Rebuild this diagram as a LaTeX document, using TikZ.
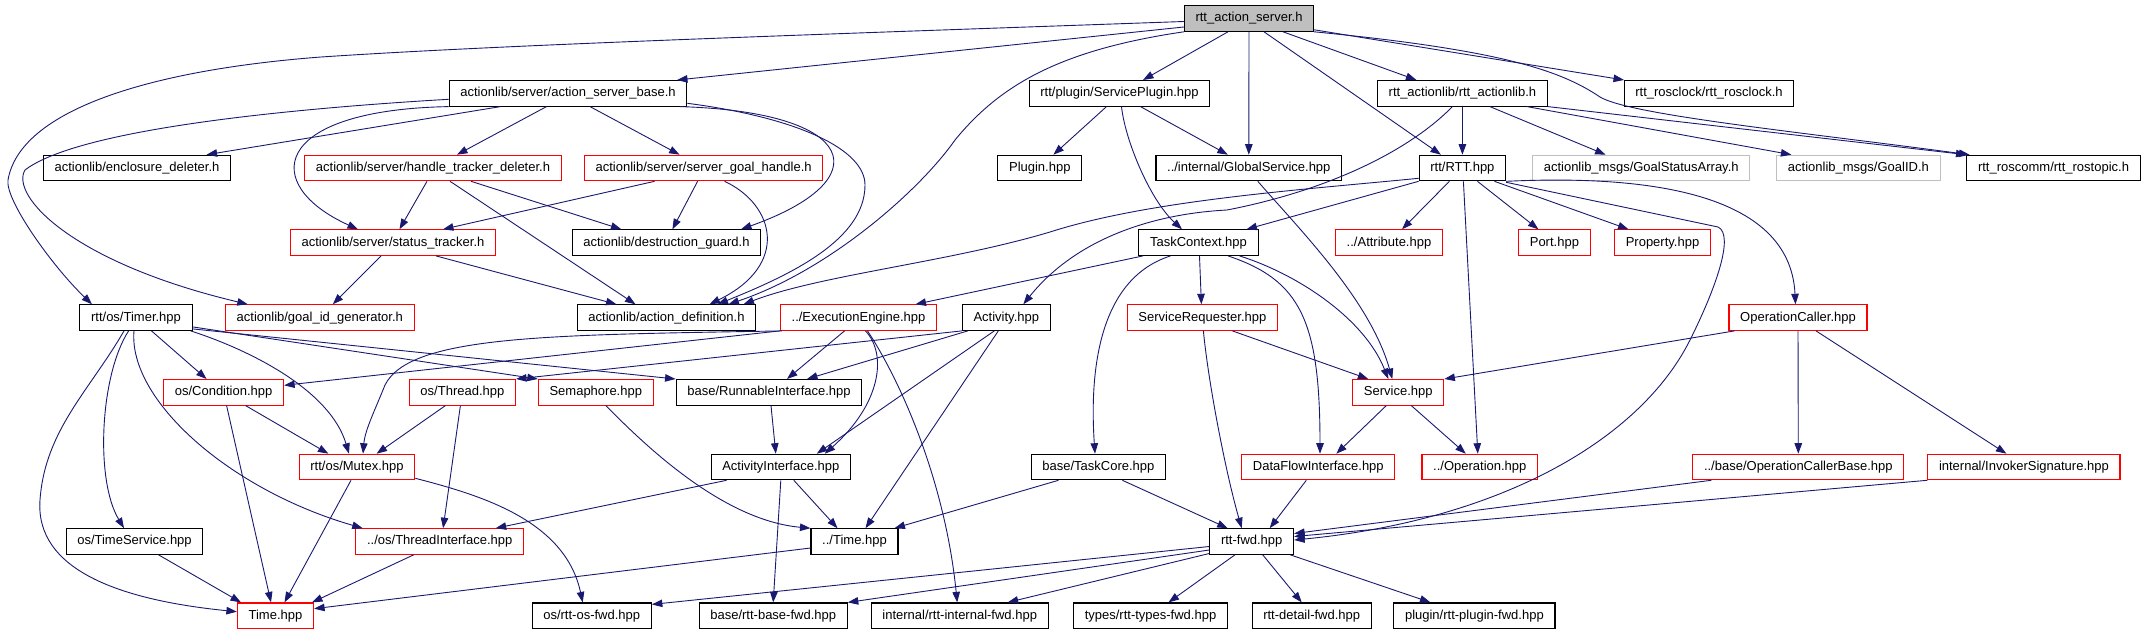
\documentclass[tikz,border=0pt]{standalone}
\usepackage{fontspec}
\setmainfont{Liberation Sans}
\usetikzlibrary{arrows.meta}
\definecolor{edgeblue}{RGB}{25,25,112}
\definecolor{boxgray}{RGB}{191,191,191}
\tikzset{
  file/.style={draw=black, line width=1.1pt, fill=white, inner xsep=11.2pt, inner ysep=0pt,
    minimum height=25.5pt, text height=9.6pt, text depth=2.7pt, font=\fontsize{13}{15}\selectfont},
  redfile/.style={file, draw=red},
  msgfile/.style={file, draw=boxgray},
  topfile/.style={file, fill=boxgray},
  inc/.style={edgeblue, line width=0.9pt, -{Triangle[length=10.5pt,width=7.5pt]}},
}
\begin{document}
\begin{tikzpicture}[x=1pt, y=-1pt]
  \useasboundingbox (0,0) rectangle (2147,635);
  \node[topfile] (top) at (1249,18.5) {rtt\_action\_server.h};
  \node[file] (asb) at (568,93.3) {actionlib/server/action\_server\_base.h};
  \node[file] (sp) at (1119.5,93.3) {rtt/plugin/ServicePlugin.hpp};
  \node[file] (ral) at (1462.4,93.3) {rtt\_actionlib/rtt\_actionlib.h};
  \node[file] (rosclock) at (1709,93.3) {rtt\_rosclock/rtt\_rosclock.h};
  \node[file] (encl) at (137,168) {actionlib/enclosure\_deleter.h};
  \node[redfile] (htd) at (433,168) {actionlib/server/handle\_tracker\_deleter.h};
  \node[redfile] (sgh) at (703.6,168) {actionlib/server/server\_goal\_handle.h};
  \node[file] (plugin) at (1039.8,168) {Plugin.hpp};
  \node[file] (gs) at (1248.8,168) {../internal/GlobalService.hpp};
  \node[file] (rtt) at (1462.4,168) {rtt/RTT.hpp};
  \node[msgfile] (gsa) at (1641.2,168) {actionlib\_msgs/GoalStatusArray.h};
  \node[msgfile] (goalid) at (1858.4,168) {actionlib\_msgs/GoalID.h};
  \node[file] (rostopic) at (2053.5,168) {rtt\_roscomm/rtt\_rostopic.h};
  \node[redfile] (st) at (393,242.6) {actionlib/server/status\_tracker.h};
  \node[file] (dg) at (666.4,242.6) {actionlib/destruction\_guard.h};
  \node[file] (tc) at (1198.5,242.6) {TaskContext.hpp};
  \node[redfile] (attr) at (1389,242.6) {../Attribute.hpp};
  \node[redfile] (port) at (1554.4,242.6) {Port.hpp};
  \node[redfile] (prop) at (1662.5,242.6) {Property.hpp};
  \node[file] (timer) at (136,317.6) {rtt/os/Timer.hpp};
  \node[redfile] (gig) at (319.8,317.6) {actionlib/goal\_id\_generator.h};
  \node[file] (ad) at (666.5,317.6) {actionlib/action\_definition.h};
  \node[redfile] (ee) at (858.5,317.6) {../ExecutionEngine.hpp};
  \node[file] (act) at (1006.3,317.6) {Activity.hpp};
  \node[redfile] (sr) at (1202.4,317.6) {ServiceRequester.hpp};
  \node[redfile] (oc) at (1798,317.6) {OperationCaller.hpp};
  \node[redfile] (cond) at (223.6,392.3) {os/Condition.hpp};
  \node[redfile] (thread) at (462.4,392.3) {os/Thread.hpp};
  \node[redfile] (sem) at (595.8,392.3) {Semaphore.hpp};
  \node[file] (ri) at (769,392.3) {base/RunnableInterface.hpp};
  \node[redfile] (svc) at (1398.3,392.3) {Service.hpp};
  \node[redfile] (mutex) at (357,467) {rtt/os/Mutex.hpp};
  \node[file] (ai) at (780.8,467) {ActivityInterface.hpp};
  \node[file] (tcore) at (1098.4,467) {base/TaskCore.hpp};
  \node[redfile] (dfi) at (1318.3,467) {DataFlowInterface.hpp};
  \node[redfile] (op) at (1479.8,467) {../Operation.hpp};
  \node[redfile] (ocb) at (1798.3,467) {../base/OperationCallerBase.hpp};
  \node[redfile] (isig) at (2023.9,467) {internal/InvokerSignature.hpp};
  \node[file] (tsvc) at (134.5,541.5) {os/TimeService.hpp};
  \node[redfile] (ti) at (439.7,541.5) {../os/ThreadInterface.hpp};
  \node[file] (time2) at (854.5,541.5) {../Time.hpp};
  \node[file] (fwd) at (1251.7,541.5) {rtt-fwd.hpp};
  \node[redfile] (time) at (275.5,615.7) {Time.hpp};
  \node[file] (osfwd) at (591.7,615.7) {os/rtt-os-fwd.hpp};
  \node[file] (basefwd) at (773.2,615.7) {base/rtt-base-fwd.hpp};
  \node[file] (intfwd) at (959.7,615.7) {internal/rtt-internal-fwd.hpp};
  \node[file] (typesfwd) at (1150.5,615.7) {types/rtt-types-fwd.hpp};
  \node[file] (detailfwd) at (1311.7,615.7) {rtt-detail-fwd.hpp};
  \node[file] (pluginfwd) at (1474.4,615.7) {plugin/rtt-plugin-fwd.hpp};

  \draw[inc] ([yshift=-8.5pt]top.west) -- ([xshift=109pt]asb.north);
  \draw[inc] ([yshift=-3pt]top.west) .. controls (800,35) and (500,45) .. (321,57) .. controls (150,70) and (20,110) .. (8,180) .. controls (5,200) and (52,266) .. ([xshift=-44pt]timer.north);
  \draw[inc] (top.south west) .. controls (1060,50) and (1000,85) .. (955,140) .. controls (920,190) and (830,270) .. ([xshift=62pt]ad.north);
  \draw[inc] ([xshift=-21pt]top.south) -- ([xshift=23.5pt]sp.north);
  \draw[inc] (top.south) -- (gs.north);
  \draw[inc] ([xshift=15pt]top.south) -- ([xshift=-21.5pt]rtt.north);
  \draw[inc] ([xshift=34pt]top.south) -- ([xshift=-46pt]ral.north);
  \draw[inc] ([yshift=2pt]top.south east) -- ([xshift=-85pt]rosclock.north);
  \draw[inc] (top.south east) .. controls (1500,50) and (1560,70) .. (1600,97) .. controls (1630,115) and (1800,132) .. ([xshift=-84pt]rostopic.north);

  \draw[inc] ([xshift=-67.5pt]asb.south) -- ([xshift=69.6pt]encl.north);
  \draw[inc] ([xshift=-21.5pt]asb.south) -- ([xshift=24pt]htd.north);
  \draw[inc] ([xshift=22pt]asb.south) -- ([xshift=-24pt]sgh.north);
  \draw[inc] (asb.south west) .. controls (270,110) and (260,185) .. ([xshift=-35pt]st.north);
  \draw[inc] ([yshift=-6pt]asb.west) .. controls (300,108) and (80,128) .. (25,170) .. controls (10,195) and (70,262) .. ([xshift=-72pt]gig.north);
  \draw[inc] ([xshift=112pt]asb.south) .. controls (860,112) and (880,180) .. ([xshift=74.6pt]dg.north);
  \draw[inc] ([yshift=-10pt]asb.east) .. controls (800,118) and (865,150) .. (865,185) .. controls (865,240) and (790,275) .. ([xshift=51pt]ad.north);

  \draw[inc] ([xshift=-6pt]htd.south) -- ([xshift=6.5pt]st.north);
  \draw[inc] ([xshift=17pt]htd.south) -- ([xshift=-31pt]ad.north);
  \draw[inc] ([xshift=38pt]htd.south) -- ([xshift=-45pt]dg.north);
  \draw[inc] ([xshift=-49pt]sgh.south) -- ([xshift=50pt]st.north);
  \draw[inc] ([xshift=-6pt]sgh.south) -- ([xshift=6pt]dg.north);
  \draw[inc] ([xshift=21pt]sgh.south) .. controls (775,205) and (790,265) .. ([xshift=43pt]ad.north);
  \draw[inc] ([xshift=-12pt]st.south) -- ([xshift=13pt]gig.north);
  \draw[inc] ([xshift=43pt]st.south) -- ([xshift=-50pt]ad.north);

  \draw[inc] ([xshift=-13pt]sp.south) -- ([xshift=13.6pt]plugin.north);
  \draw[inc] ([xshift=21pt]sp.south) -- ([xshift=-21pt]gs.north);
  \draw[inc] ([xshift=2pt]sp.south) .. controls (1125,140) and (1150,200) .. ([xshift=-16.5pt]tc.north);
  \draw[inc] ([xshift=9pt]gs.south) .. controls (1300,230) and (1370,300) .. ([xshift=-6pt]svc.north);

  \draw[inc] (ral.south) -- (rtt.north);
  \draw[inc] ([xshift=27.5pt]ral.south) -- ([xshift=-35.6pt]gsa.north);
  \draw[inc] ([xshift=64.6pt]ral.south) -- ([xshift=-67pt]goalid.north);
  \draw[inc] (ral.south east) -- ([xshift=-87pt]rostopic.north);
  \draw[inc] ([xshift=-10pt]ral.south) .. controls (1410,150) and (1330,190) .. (1227,210) .. controls (1150,214) and (1075,240) .. ([xshift=17pt]act.north);

  \draw[inc] (rtt.south west) -- ([xshift=48pt]tc.north);
  \draw[inc] ([yshift=3pt]rtt.south west) .. controls (1300,190) and (1150,200) .. (1050,232) .. controls (950,262) and (820,275) .. ([xshift=77pt]ad.north);
  \draw[inc] ([xshift=-13pt]rtt.south) -- ([xshift=13pt]attr.north);
  \draw[inc] ([xshift=15pt]rtt.south) -- ([xshift=-16pt]port.north);
  \draw[inc] ([xshift=32pt]rtt.south) -- ([xshift=-34pt]prop.north);
  \draw[inc] ([xshift=1pt]rtt.south) -- ([xshift=-2pt]op.north);
  \draw[inc] (rtt.south east) .. controls (1640,175) and (1790,190) .. ([xshift=-2.5pt]oc.north);
  \draw[inc] ([yshift=-1pt]rtt.south east) -- (1718,227) .. controls (1735,235) and (1715,290) .. (1690,340) .. controls (1640,440) and (1500,520) .. ([yshift=1.5pt]fwd.east);

  \draw[inc] ([xshift=-55.5pt]tc.south) -- ([xshift=57pt]ee.north);
  \draw[inc] ([xshift=1pt]tc.south) -- ([xshift=-1pt]sr.north);
  \draw[inc] ([xshift=-28pt]tc.south) .. controls (1095,280) and (1090,380) .. ([xshift=-3.4pt]tcore.north);
  \draw[inc] ([xshift=29.5pt]tc.south) .. controls (1300,280) and (1320,320) .. ([xshift=1.7pt]dfi.north);
  \draw[inc] ([xshift=41pt]tc.south) .. controls (1300,275) and (1365,320) .. ([xshift=-10pt]svc.north);

  \draw[inc] ([xshift=30pt]sr.south) -- ([xshift=-30pt]svc.north);
  \draw[inc] ([xshift=1pt]sr.south) .. controls (1208,380) and (1225,470) .. ([xshift=-10pt]fwd.north);
  \draw[inc] ([xshift=6pt]oc.south west) -- (svc.north east);
  \draw[inc] (oc.south) -- (ocb.north);
  \draw[inc] ([xshift=18pt]oc.south) -- ([xshift=-17.5pt]isig.north);
  \draw[inc] ([xshift=-12pt]svc.south) -- ([xshift=18pt]dfi.north);
  \draw[inc] ([xshift=13pt]svc.south) -- ([xshift=-14pt]op.north);
  \draw[inc] ([xshift=-12pt]dfi.south) -- ([xshift=18pt]fwd.north);
  \draw[inc] ([xshift=-40pt]tcore.south) -- ([xshift=40pt]time2.north);
  \draw[inc] ([xshift=24pt]tcore.south) -- ([xshift=-24pt]fwd.north);
  \draw[inc] ([xshift=19pt]ocb.south west) -- ([yshift=8pt]fwd.east);
  \draw[inc] (isig.south west) -- ([yshift=5pt]fwd.east);

  \draw[inc] ([yshift=-5pt]fwd.west) -- ([yshift=-2pt]osfwd.north east);
  \draw[inc] ([yshift=-8.5pt]fwd.west) -- (basefwd.north east);
  \draw[inc] ([yshift=-12pt]fwd.west) -- ([xshift=48pt]intfwd.north);
  \draw[inc] ([xshift=-16.7pt]fwd.south) -- ([xshift=18pt]typesfwd.north);
  \draw[inc] ([xshift=11pt]fwd.south) -- ([xshift=-10pt]detailfwd.north);
  \draw[inc] ([xshift=-4pt]fwd.south east) -- ([xshift=-44pt]pluginfwd.north);

  \draw[inc] ([xshift=15.5pt]timer.south) -- ([xshift=-17pt]cond.north);
  \draw[inc] ([xshift=-2pt]timer.south east) .. controls (250,350) and (330,390) .. ([xshift=-8pt]mutex.north);
  \draw[inc] ([yshift=4pt]timer.south east) -- (sem.north west);
  \draw[inc] ([yshift=2pt]timer.south east) -- (ri.north west);
  \draw[inc] ([xshift=-2pt]timer.south) .. controls (128,400) and (230,490) .. ([xshift=-77pt]ti.north);
  \draw[inc] ([xshift=-7.4pt]timer.south) .. controls (100,375) and (95,480) .. ([xshift=-10.5pt]tsvc.north);
  \draw[inc] ([xshift=-12pt]timer.south) .. controls (90,390) and (45,430) .. (40,500) .. controls (35,570) and (120,600) .. ([yshift=4pt]time.west);

  \draw[inc] (ee.south west) -- ([yshift=7pt]cond.east);
  \draw[inc] ([xshift=2pt]ee.south west) .. controls (550,335) and (410,335) .. (385,385) .. controls (375,410) and (365,430) .. ([xshift=6pt]mutex.north);
  \draw[inc] ([xshift=-14pt]ee.south) -- ([xshift=18pt]ri.north);
  \draw[inc] ([xshift=7pt]ee.south) .. controls (888,355) and (880,405) .. ([xshift=44pt]ai.north);
  \draw[inc] ([xshift=9pt]ee.south) .. controls (900,380) and (945,480) .. ([xshift=-2.5pt]intfwd.north);

  \draw[inc] (act.south west) -- (thread.north east);
  \draw[inc] ([xshift=6pt]act.south west) -- ([xshift=38pt]ri.north);
  \draw[inc] ([xshift=-12pt]act.south) -- ([xshift=36pt]ai.north);
  \draw[inc] ([xshift=-8pt]act.south) -- ([xshift=11pt]time2.north);

  \draw[inc] ([xshift=22pt]cond.south) -- ([xshift=-28.6pt]mutex.north);
  \draw[inc] ([xshift=3pt]cond.south) -- ([xshift=-4.5pt]time.north);
  \draw[inc] ([xshift=-17pt]thread.south) -- ([xshift=19.6pt]mutex.north);
  \draw[inc] ([xshift=-2pt]thread.south) -- ([xshift=3.4pt]ti.north);
  \draw[inc] ([xshift=10pt]sem.south) .. controls (640,440) and (720,520) .. (time2.north west);
  \draw[inc] ([xshift=2pt]ri.south) -- ([xshift=-5pt]ai.north);

  \draw[inc] ([xshift=-6pt]mutex.south) -- ([xshift=9pt]time.north);
  \draw[inc] ([yshift=2pt]mutex.south east) .. controls (480,495) and (565,520) .. ([xshift=-9pt]osfwd.north);
  \draw[inc] ([xshift=16pt]ai.south west) -- ([xshift=56pt]ti.north);
  \draw[inc] ([xshift=13pt]ai.south) -- ([xshift=-17pt]time2.north);
  \draw[inc] (ai.south) -- (basefwd.north);
  \draw[inc] ([xshift=-26pt]ti.south) -- ([xshift=36.5pt]time.north);
  \draw[inc] ([xshift=24pt]tsvc.south) -- ([xshift=-34.5pt]time.north);
  \draw[inc] ([yshift=-6.5pt]time2.west) -- ([yshift=7pt]time.east);
\end{tikzpicture}
\end{document}
